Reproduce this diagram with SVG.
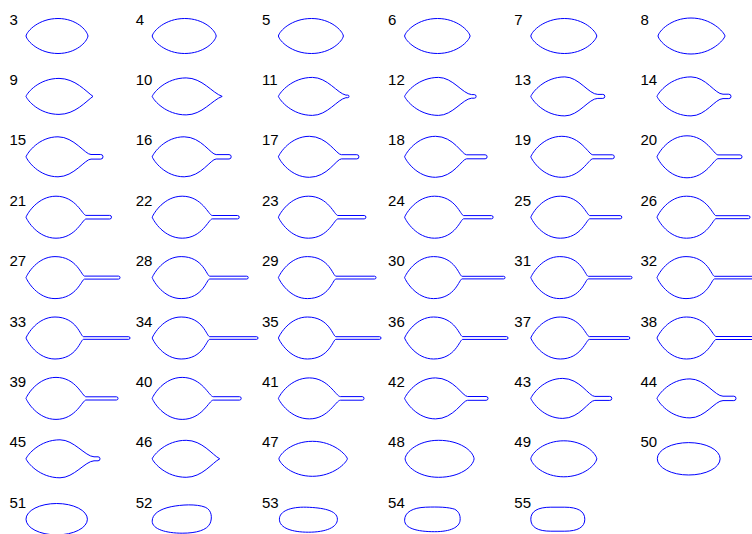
<svg xmlns="http://www.w3.org/2000/svg" width="752" height="534" viewBox="0 0 752 534">
<style>
text{font-family:"Liberation Sans",Arial,sans-serif;font-size:15px;fill:#000}
path,ellipse{fill:none;stroke:#0000ff;stroke-width:1}
</style>
<rect width="752" height="534" fill="#fff"/>
<g id="n3" transform="translate(0,36)"><text x="9.5" y="-11.5">3</text><path d="M26,0C27,-5 38.8,-17.5 58,-17.5C76,-17.5 87,-6 88,0C87,6 76,17.5 58,17.5C38.8,17.5 27,5 26,0Z"/></g>
<g id="n4" transform="translate(126.2,36)"><text x="9.5" y="-11.5">4</text><path d="M26,0C27,-5 39,-17.5 58.5,-17.5C77.4,-17.5 89,-6 90,0C89,6 77.4,17.5 58.5,17.5C39,17.5 27,5 26,0Z"/></g>
<g id="n5" transform="translate(252.4,36)"><text x="9.5" y="-11.5">5</text><path d="M26,0C27,-5 39.2,-17.5 59,-17.5C78.2,-17.5 90,-5.5 91,0C90,5.5 78.2,17.5 59,17.5C39.2,17.5 27,5 26,0Z"/></g>
<g id="n6" transform="translate(378.6,36)"><text x="9.5" y="-11.5">6</text><path d="M26,0C27,-5 39.2,-17.5 59,-17.5C78.5,-17.5 90.5,-5 91.5,0C90.5,5 78.5,17.5 59,17.5C39.2,17.5 27,5 26,0Z"/></g>
<g id="n7" transform="translate(504.8,36)"><text x="9.5" y="-11.5">7</text><path d="M26,0C27,-5 39.4,-17.5 59.5,-17.5C79.3,-17.5 91,-5 92,0C91,5 79.3,17.5 59.5,17.5C39.4,17.5 27,5 26,0Z"/></g>
<g id="n8" transform="translate(631,36)"><text x="9.5" y="-11.5">8</text><path d="M27,0C28,-5 40,-18 60,-18C80.4,-18 93,-4 94,0C93,4 80.4,18 60,18C40,18 28,5 27,0Z"/></g>
<g id="n9" transform="translate(0,96.4)"><text x="9.5" y="-11.5">9</text><path d="M26,0C27.5,-4 39.2,-18 59,-18C75,-18 86,-5 93,0C86,5 75,18 59,18C39.2,18 27.5,4 26,0Z"/></g>
<g id="n10" transform="translate(126.2,96.4)"><text x="9.5" y="-11.5">10</text><path d="M26,0C27.5,-4 39.6,-18.5 60,-18.5C76,-18.5 86,-3.5 96,0C86,3.5 76,18.5 60,18.5C39.6,18.5 27.5,4 26,0Z"/></g>
<g id="n11" transform="translate(252.4,96.4)"><text x="9.5" y="-11.5">11</text><path d="M26,0C27.5,-4 39.6,-19 60,-19C75,-19 85,-3 93.5,-1.3L95.3,-1.3A1.3,1.3 0 0 1 95.3,1.3L93.5,1.3C85,3 75,19 60,19C39.6,19 27.5,4 26,0Z"/></g>
<g id="n12" transform="translate(378.6,96.4)"><text x="9.5" y="-11.5">12</text><path d="M26,0C27.5,-4 39.6,-19 60,-19C74,-19 84,-2.5 93,-1.8L95.7,-1.8A1.8,1.8 0 0 1 95.7,1.8L93,1.8C84,2.5 74,19 60,19C39.6,19 27.5,4 26,0Z"/></g>
<g id="n13" transform="translate(504.8,96.4)"><text x="9.5" y="-11.5">13</text><path d="M26,0C27.5,-4 39.6,-19.5 60,-19.5C74,-19.5 84,-2 93,-2L98,-2A2,2 0 0 1 98,2L93,2C84,2 74,19.5 60,19.5C39.6,19.5 27.5,4 26,0Z"/></g>
<g id="n14" transform="translate(631,96.4)"><text x="9.5" y="-11.5">14</text><path d="M26,0C27.5,-4 39.6,-19.5 60,-19.5C75,-19.5 84,-2.2 92,-2.2L97.8,-2.2A2.2,2.2 0 0 1 97.8,2.2L92,2.2C84,2.2 75,19.5 60,19.5C39.6,19.5 27.5,4 26,0Z"/></g>
<g id="n15" transform="translate(0,156.8)"><text x="9.5" y="-11.5">15</text><path d="M26,0C27.5,-4 38.8,-20 58,-20C74,-20 85,-2.3 91,-2.3L100.7,-2.3A2.3,2.3 0 0 1 100.7,2.3L91,2.3C85,2.3 74,20 58,20C38.8,20 27.5,4 26,0Z"/></g>
<g id="n16" transform="translate(126.2,156.8)"><text x="9.5" y="-11.5">16</text><path d="M26,0C27.5,-4 38.8,-20 58,-20C75,-20 84.5,-2.2 90,-2.2L102.8,-2.2A2.2,2.2 0 0 1 102.8,2.2L90,2.2C84.5,2.2 75,20 58,20C38.8,20 27.5,4 26,0Z"/></g>
<g id="n17" transform="translate(252.4,156.8)"><text x="9.5" y="-11.5">17</text><path d="M26,0C27.5,-4 38.4,-20.5 57,-20.5C75,-20.5 84,-2.1 89,-2.1L104.4,-2.1A2.1,2.1 0 0 1 104.4,2.1L89,2.1C84,2.1 75,20.5 57,20.5C38.4,20.5 27.5,4 26,0Z"/></g>
<g id="n18" transform="translate(378.6,156.8)"><text x="9.5" y="-11.5">18</text><path d="M26,0C27.5,-4 38.4,-20.5 57,-20.5C75,-20.5 83.5,-2 88,-2L106.5,-2A2,2 0 0 1 106.5,2L88,2C83.5,2 75,20.5 57,20.5C38.4,20.5 27.5,4 26,0Z"/></g>
<g id="n19" transform="translate(504.8,156.8)"><text x="9.5" y="-11.5">19</text><path d="M26,0C27.5,-4 38.4,-20.5 57,-20.5C76,-20.5 84,-2 88,-2L107.5,-2A2,2 0 0 1 107.5,2L88,2C84,2 76,20.5 57,20.5C38.4,20.5 27.5,4 26,0Z"/></g>
<g id="n20" transform="translate(631,156.8)"><text x="9.5" y="-11.5">20</text><path d="M26,0C27.5,-4 38,-21 56,-21C75,-21 83,-1.9 87,-1.9L109.1,-1.9A1.9,1.9 0 0 1 109.1,1.9L87,1.9C83,1.9 75,21 56,21C38,21 27.5,4 26,0Z"/></g>
<g id="n21" transform="translate(0,217.2)"><text x="9.5" y="-11.5">21</text><path d="M26,0C27.5,-4 38,-21 56,-21C76,-21 82.5,-1.8 86,-1.8L109.7,-1.8A1.8,1.8 0 0 1 109.7,1.8L86,1.8C82.5,1.8 76,21 56,21C38,21 27.5,4 26,0Z"/></g>
<g id="n22" transform="translate(126.2,217.2)"><text x="9.5" y="-11.5">22</text><path d="M26,0C27.5,-4 38,-21 56,-21C76,-21 82.5,-1.7 86,-1.7L111.3,-1.7A1.7,1.7 0 0 1 111.3,1.7L86,1.7C82.5,1.7 76,21 56,21C38,21 27.5,4 26,0Z"/></g>
<g id="n23" transform="translate(252.4,217.2)"><text x="9.5" y="-11.5">23</text><path d="M26,0C27.5,-4 38,-21 56,-21C76,-21 82,-1.7 85.5,-1.7L111.8,-1.7A1.7,1.7 0 0 1 111.8,1.7L85.5,1.7C82,1.7 76,21 56,21C38,21 27.5,4 26,0Z"/></g>
<g id="n24" transform="translate(378.6,217.2)"><text x="9.5" y="-11.5">24</text><path d="M26,0C27.5,-4 38,-21 56,-21C77,-21 82,-1.6 85,-1.6L112.9,-1.6A1.6,1.6 0 0 1 112.9,1.6L85,1.6C82,1.6 77,21 56,21C38,21 27.5,4 26,0Z"/></g>
<g id="n25" transform="translate(504.8,217.2)"><text x="9.5" y="-11.5">25</text><path d="M26,0C27.5,-4 37.8,-21 55.5,-21C76.5,-21 82,-1.6 85,-1.6L115.4,-1.6A1.6,1.6 0 0 1 115.4,1.6L85,1.6C82,1.6 76.5,21 55.5,21C37.8,21 27.5,4 26,0Z"/></g>
<g id="n26" transform="translate(631,217.2)"><text x="9.5" y="-11.5">26</text><path d="M26,0C27.5,-4 37.8,-21 55.5,-21C76.5,-21 82,-1.5 85,-1.5L117.5,-1.5A1.5,1.5 0 0 1 117.5,1.5L85,1.5C82,1.5 76.5,21 55.5,21C37.8,21 27.5,4 26,0Z"/></g>
<g id="n27" transform="translate(0,277.6)"><text x="9.5" y="-11.5">27</text><path d="M26,0C27.5,-4 37.6,-21 55,-21C77,-21 81.5,-1.5 84.5,-1.5L118.5,-1.5A1.5,1.5 0 0 1 118.5,1.5L84.5,1.5C81.5,1.5 77,21 55,21C37.6,21 27.5,4 26,0Z"/></g>
<g id="n28" transform="translate(126.2,277.6)"><text x="9.5" y="-11.5">28</text><path d="M26,0C27.5,-4 37.6,-21 55,-21C77,-21 80.5,-1.4 83.5,-1.4L120.6,-1.4A1.4,1.4 0 0 1 120.6,1.4L83.5,1.4C80.5,1.4 77,21 55,21C37.6,21 27.5,4 26,0Z"/></g>
<g id="n29" transform="translate(252.4,277.6)"><text x="9.5" y="-11.5">29</text><path d="M26,0C27.5,-4 37.6,-21 55,-21C77,-21 80.5,-1.4 83.5,-1.4L122.2,-1.4A1.4,1.4 0 0 1 122.2,1.4L83.5,1.4C80.5,1.4 77,21 55,21C37.6,21 27.5,4 26,0Z"/></g>
<g id="n30" transform="translate(378.6,277.6)"><text x="9.5" y="-11.5">30</text><path d="M26,0C27.5,-4 37.6,-21 55,-21C77,-21 80.5,-1.3 83.5,-1.3L125.1,-1.3A1.3,1.3 0 0 1 125.1,1.3L83.5,1.3C80.5,1.3 77,21 55,21C37.6,21 27.5,4 26,0Z"/></g>
<g id="n31" transform="translate(504.8,277.6)"><text x="9.5" y="-11.5">31</text><path d="M26,0C27.5,-4 37.6,-21 55,-21C77,-21 80.5,-1.3 83.5,-1.3L125.9,-1.3A1.3,1.3 0 0 1 125.9,1.3L83.5,1.3C80.5,1.3 77,21 55,21C37.6,21 27.5,4 26,0Z"/></g>
<g id="n32" transform="translate(631,277.6)"><text x="9.5" y="-11.5">32</text><path d="M26,0C27.5,-4 37.6,-21 55,-21C77,-21 80.5,-1.3 83.5,-1.3L127.2,-1.3A1.3,1.3 0 0 1 127.2,1.3L83.5,1.3C80.5,1.3 77,21 55,21C37.6,21 27.5,4 26,0Z"/></g>
<g id="n33" transform="translate(0,338)"><text x="9.5" y="-11.5">33</text><path d="M26,0C27.5,-4 37.6,-21 55,-21C77,-21 80.5,-1.3 83.5,-1.3L128.7,-1.3A1.3,1.3 0 0 1 128.7,1.3L83.5,1.3C80.5,1.3 77,21 55,21C37.6,21 27.5,4 26,0Z"/></g>
<g id="n34" transform="translate(126.2,338)"><text x="9.5" y="-11.5">34</text><path d="M26,0C27.5,-4 37.6,-21 55,-21C77,-21 80.5,-1.3 83.5,-1.3L130.5,-1.3A1.3,1.3 0 0 1 130.5,1.3L83.5,1.3C80.5,1.3 77,21 55,21C37.6,21 27.5,4 26,0Z"/></g>
<g id="n35" transform="translate(252.4,338)"><text x="9.5" y="-11.5">35</text><path d="M26,0C27.5,-4 37.6,-21 55,-21C77,-21 80.5,-1.3 83.5,-1.3L127.3,-1.3A1.3,1.3 0 0 1 127.3,1.3L83.5,1.3C80.5,1.3 77,21 55,21C37.6,21 27.5,4 26,0Z"/></g>
<g id="n36" transform="translate(378.6,338)"><text x="9.5" y="-11.5">36</text><path d="M26,0C27.5,-4 37.6,-21 55,-21C77,-21 81,-1.4 84,-1.4L128,-1.4A1.4,1.4 0 0 1 128,1.4L84,1.4C81,1.4 77,21 55,21C37.6,21 27.5,4 26,0Z"/></g>
<g id="n37" transform="translate(504.8,338)"><text x="9.5" y="-11.5">37</text><path d="M26,0C27.5,-4 37.8,-21 55.5,-21C76.5,-21 81.5,-1.4 84.5,-1.4L123.6,-1.4A1.4,1.4 0 0 1 123.6,1.4L84.5,1.4C81.5,1.4 76.5,21 55.5,21C37.8,21 27.5,4 26,0Z"/></g>
<g id="n38" transform="translate(631,338)"><text x="9.5" y="-11.5">38</text><path d="M26,0C27.5,-4 37.8,-21 55.5,-21C76.5,-21 82,-1.5 85,-1.5L121.5,-1.5A1.5,1.5 0 0 1 121.5,1.5L85,1.5C82,1.5 76.5,21 55.5,21C37.8,21 27.5,4 26,0Z"/></g>
<g id="n39" transform="translate(0,398.4)"><text x="9.5" y="-11.5">39</text><path d="M26,0C27.5,-4 38,-21 56,-21C76,-21 82.5,-1.6 86,-1.6L116.4,-1.6A1.6,1.6 0 0 1 116.4,1.6L86,1.6C82.5,1.6 76,21 56,21C38,21 27.5,4 26,0Z"/></g>
<g id="n40" transform="translate(126.2,398.4)"><text x="9.5" y="-11.5">40</text><path d="M26,0C27.5,-4 38,-21 56,-21C76,-21 83,-1.7 87,-1.7L113.3,-1.7A1.7,1.7 0 0 1 113.3,1.7L87,1.7C83,1.7 76,21 56,21C38,21 27.5,4 26,0Z"/></g>
<g id="n41" transform="translate(252.4,398.4)"><text x="9.5" y="-11.5">41</text><path d="M26,0C27.5,-4 38.4,-20.5 57,-20.5C76,-20.5 83.5,-1.8 88,-1.8L109.8,-1.8A1.8,1.8 0 0 1 109.8,1.8L88,1.8C83.5,1.8 76,20.5 57,20.5C38.4,20.5 27.5,4 26,0Z"/></g>
<g id="n42" transform="translate(378.6,398.4)"><text x="9.5" y="-11.5">42</text><path d="M26,0C27.5,-4 38.4,-20.5 57,-20.5C75,-20.5 84,-1.9 89,-1.9L107.5,-1.9A1.9,1.9 0 0 1 107.5,1.9L89,1.9C84,1.9 75,20.5 57,20.5C38.4,20.5 27.5,4 26,0Z"/></g>
<g id="n43" transform="translate(504.8,398.4)"><text x="9.5" y="-11.5">43</text><path d="M26,0C27.5,-4 38.8,-20 58,-20C75,-20 84,-2 90,-2L105,-2A2,2 0 0 1 105,2L90,2C84,2 75,20 58,20C38.8,20 27.5,4 26,0Z"/></g>
<g id="n44" transform="translate(631,398.4)"><text x="9.5" y="-11.5">44</text><path d="M26,0C27.5,-4 39.2,-19.5 59,-19.5C74,-19.5 84,-2.2 92,-2.2L102.8,-2.2A2.2,2.2 0 0 1 102.8,2.2L92,2.2C84,2.2 74,19.5 59,19.5C39.2,19.5 27.5,4 26,0Z"/></g>
<g id="n45" transform="translate(0,458.8)"><text x="9.5" y="-11.5">45</text><path d="M26,0C27.5,-4 39.6,-19 60,-19C74,-19 85,-2.5 94,-2L98,-2A2,2 0 0 1 98,2L94,2C85,2.5 74,19 60,19C39.6,19 27.5,4 26,0Z"/></g>
<g id="n46" transform="translate(126.2,458.8)"><text x="9.5" y="-11.5">46</text><path d="M26,0C27.5,-4 39.6,-18.5 60,-18.5C76,-18.5 86,-4 93.5,0C86,4 76,18.5 60,18.5C39.6,18.5 27.5,4 26,0Z"/></g>
<g id="n47" transform="translate(252.4,458.8)"><text x="9.5" y="-11.5">47</text><path d="M26.5,0C27.5,-5 39.6,-17.5 60,-17.5C81,-17.5 94,-4 95,0C94,4 81,17.5 60,17.5C39.6,17.5 27.5,5 26.5,0Z"/></g>
<g id="n48" transform="translate(378.6,458.8)"><text x="9.5" y="-11.5">48</text><path d="M26.5,0C27,-7 39.6,-18.5 60,-18.5C81.3,-18.5 94.5,-8 95.5,0C94.5,8 81.3,18.5 60,18.5C39.6,18.5 27,7 26.5,0Z"/></g>
<g id="n49" transform="translate(504.8,458.8)"><text x="9.5" y="-11.5">49</text><path d="M26,0C27,-6 39.2,-18 59,-18C78.8,-18 91,-6 92,0C91,6 78.8,18 59,18C39.2,18 27,6 26,0Z"/></g>
<g id="n50" transform="translate(631,458.8)"><text x="9.5" y="-11.5">50</text><ellipse cx="57.7" cy="0" rx="31.4" ry="16.2"/></g>
<g id="n51" transform="translate(0,519.2)"><text x="9.5" y="-11.5">51</text><ellipse cx="56.7" cy="0" rx="30.7" ry="15.7"/></g>
<g id="n52" transform="translate(126.2,519.2)"><text x="9.5" y="-11.5">52</text><path d="M26,2C26,-5 33,-10 45,-12.5C55,-14.5 70,-15.5 79,-12C86,-9 86,-1 84,4C81,11 70,14 56,14C40,14 26,10 26,2Z"/></g>
<g id="n53" transform="translate(252.4,519.2)"><text x="9.5" y="-11.5">53</text><path d="M27,0C27,-8 38,-12.5 54,-12C70,-11.5 85,-9 85,0C85,8 74,13 56,13C40,13 27,9 27,0Z"/></g>
<g id="n54" transform="translate(378.6,519.2)"><text x="9.5" y="-11.5">54</text><path d="M26,1C26,-7 34,-11.5 47,-12C60,-12.5 70,-12 76,-10C80,-8 82,-4 81.5,1C81,8 72,12.5 56,12.5C38,12.5 26,9 26,1Z"/></g>
<g id="n55" transform="translate(504.8,519.2)"><text x="9.5" y="-11.5">55</text><path d="M26,0C26,-8 33,-12 46,-12L60,-12C73,-12 80,-8 80,0C80,8 73,12 60,12L46,12C33,12 26,8 26,0Z"/></g>
<g id="connectors"></g>
</svg>
